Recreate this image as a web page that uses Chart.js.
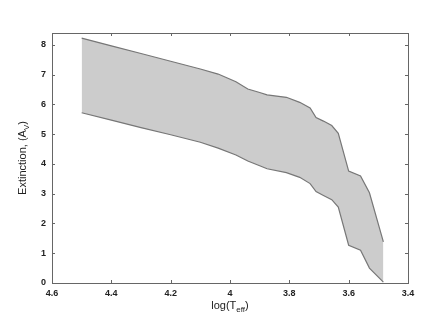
<!DOCTYPE html>
<html>
<head>
<meta charset="utf-8">
<script src="https://cdn.jsdelivr.net/npm/chart.js@4.4.0/dist/chart.umd.min.js"></script>
<style>
  body { margin: 0; background: #fff; }
  #wrap { width: 436px; height: 328px; }
</style>
</head>
<body>
<div id="wrap"><canvas id="bandChart" width="436" height="328"></canvas></div>
<script>
// log(Teff) positions shared by both edges of the band
var logTeff = [4.5, 4.4, 4.3, 4.2, 4.1, 4.04, 3.98, 3.94, 3.90, 3.875, 3.81, 3.765, 3.73, 3.71, 3.685, 3.657, 3.635, 3.60, 3.56, 3.53, 3.483];
// upper and lower extinction limits A_V
var upperAv = [8.23, 7.97, 7.71, 7.45, 7.19, 7.02, 6.76, 6.52, 6.40, 6.32, 6.24, 6.07, 5.88, 5.56, 5.44, 5.29, 5.03, 3.76, 3.60, 3.03, 1.38];
var lowerAv = [5.72, 5.47, 5.22, 4.98, 4.73, 4.53, 4.30, 4.10, 3.94, 3.84, 3.71, 3.55, 3.34, 3.07, 2.94, 2.80, 2.55, 1.27, 1.10, 0.50, 0.03];

var xTickStep = 0.2;
var yTickStep = 1;

function toPoints(ys) {
    return logTeff.map(function (x, i) { return { x: x, y: ys[i] }; });
}

var fontFamily = '"Liberation Sans", Arial, Helvetica, sans-serif';

// box frame, inward ticks and axis titles with subscripts
var framePlugin = {
    id: 'frame',
    afterDraw: function (chart) {
        var ctx = chart.ctx;
        var a = chart.chartArea;
        var xs = chart.scales.x, ys = chart.scales.y;
        ctx.save();
        ctx.strokeStyle = '#666';
        ctx.lineWidth = 1;
        ctx.strokeRect(a.left + 0.5, a.top + 0.5, a.right - a.left, a.bottom - a.top);
        ctx.beginPath();
        xs.ticks.forEach(function (t) {
            var px = Math.round(xs.getPixelForValue(t.value)) + 0.5;
            ctx.moveTo(px, a.bottom); ctx.lineTo(px, a.bottom - 3);
            ctx.moveTo(px, a.top); ctx.lineTo(px, a.top + 3);
        });
        ys.ticks.forEach(function (t) {
            var py = Math.round(ys.getPixelForValue(t.value)) + 0.5;
            ctx.moveTo(a.left, py); ctx.lineTo(a.left + 3, py);
            ctx.moveTo(a.right, py); ctx.lineTo(a.right - 3, py);
        });
        ctx.stroke();

        ctx.fillStyle = '#222';
        ctx.textBaseline = 'alphabetic';
        drawSubTitle(ctx, (a.left + a.right) / 2, 309, 'log(T', 'eff', ')', 0);
        drawSubTitle(ctx, 26, (a.top + a.bottom) / 2, 'Extinction, (A', 'V', ')', -Math.PI / 2);
        ctx.restore();
    }
};

function drawSubTitle(ctx, cx, cy, before, sub, after, angle) {
    var main = '11px ' + fontFamily, small = '8px ' + fontFamily;
    ctx.font = main;
    var w1 = ctx.measureText(before).width, w3 = ctx.measureText(after).width;
    ctx.font = small;
    var w2 = ctx.measureText(sub).width;
    var total = w1 + w2 + w3;
    ctx.save();
    ctx.translate(cx, cy);
    ctx.rotate(angle);
    ctx.textAlign = 'left';
    var x0 = -total / 2;
    ctx.font = main;
    ctx.fillText(before, x0, 0);
    ctx.font = small;
    ctx.fillText(sub, x0 + w1, 3);
    ctx.font = main;
    ctx.fillText(after, x0 + w1 + w2, 0);
    ctx.restore();
}

var ctx = document.getElementById('bandChart').getContext('2d');
var bandChart = new Chart(ctx, {
    type: 'line',
    data: {
        datasets: [
            {
                label: 'Upper',
                data: toPoints(upperAv),
                borderColor: '#777',
                borderWidth: 1.2,
                pointRadius: 0,
                tension: 0,
                fill: false
            },
            {
                label: 'Lower',
                data: toPoints(lowerAv),
                borderColor: '#777',
                borderWidth: 1.2,
                pointRadius: 0,
                tension: 0,
                backgroundColor: '#cccccc',
                fill: '-1'
            }
        ]
    },
    options: {
        responsive: false,
        animation: false,
        layout: { padding: { top: 33, right: 28, left: 0, bottom: 0 } },
        plugins: {
            legend: { display: false },
            title: { display: false },
            tooltip: { enabled: false }
        },
        scales: {
            x: {
                type: 'linear',
                reverse: true,
                min: 3.4,
                max: 4.6,
                grid: { display: false, drawTicks: false },
                border: { display: false },
                ticks: {
                    stepSize: xTickStep,
                    padding: 5,
                    color: '#222',
                    font: { family: fontFamily, size: 9, weight: 'bold' },
                    maxRotation: 0,
                    callback: function (v) { return String(Math.round(v * 10) / 10); }
                },
                afterFit: function (scale) { scale.height = 45; }
            },
            y: {
                min: 0,
                max: 8.4,
                grid: { display: false, drawTicks: false },
                border: { display: false },
                ticks: {
                    stepSize: yTickStep,
                    includeBounds: false,
                    padding: 6,
                    color: '#222',
                    font: { family: fontFamily, size: 9, weight: 'bold' }
                },
                afterFit: function (scale) { scale.width = 52; }
            }
        }
    },
    plugins: [framePlugin]
});
</script>
</body>
</html>
